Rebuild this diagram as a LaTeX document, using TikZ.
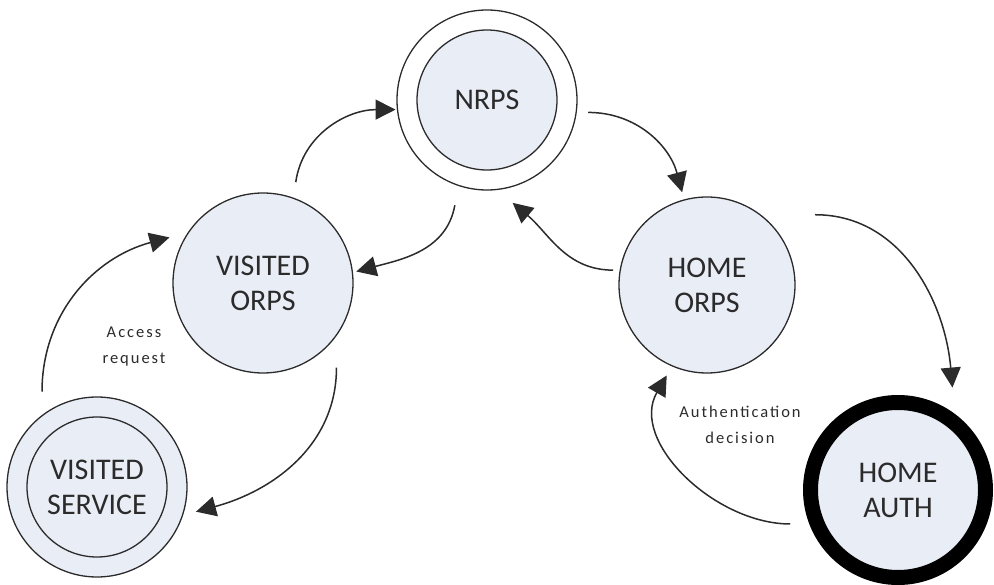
\documentclass[tikz,border=0pt]{standalone}
\usepackage{fontspec}
\setmainfont{Carlito}
\newfontfamily\lblfont[LetterSpace=12]{Carlito}
\usetikzlibrary{arrows.meta,calc}
\definecolor{nodefill}{HTML}{E9EDF6}
\definecolor{ink}{HTML}{2B2B2B}
\begin{document}
\begin{tikzpicture}[x=1pt,y=1pt,
  state/.style={circle, draw=ink, line width=1.3pt, fill=nodefill, minimum size=180pt, inner sep=0pt, align=center, text=ink, font=\fontsize{30}{35}\selectfont},
  ring/.style={circle, draw=ink, line width=1.3pt, minimum size=180pt, inner sep=0pt},
  arr/.style={draw=ink, line width=1.5pt, -{Triangle[length=20pt,width=20pt]}},
  lbl/.style={text=ink, font=\lblfont\fontsize{16.5}{26}\selectfont, align=center}]
\useasboundingbox (0,0) rectangle (994,-585);
% nodes
\node[ring, fill=white] (nrpsout) at (487,-100) {};
\node[state, minimum size=140pt] (nrps) at (487,-100) {NRPS};
\node[ring, fill=nodefill] (vsout) at (97,-487) {};
\node[state, minimum size=140pt] (vs) at (97,-487) {VISITED\\SERVICE};
\node[state] (vo) at (263,-283) {VISITED\\ORPS};
\node[state, minimum size=176pt] (ho) at (707,-285) {HOME\\ORPS};
\node[state, draw=black, line width=15pt, minimum size=175pt] (ha) at (898,-490) {HOME\\AUTH};
% labels
\node[lbl] (acc) at (134,-347) {Access\\request};
\node[lbl] (auth) at (740,-425) {Authentication\\decision};
% connectors
\draw[arr] ($(vs)+(120:110)$) to[out=90,in=195] ($(vo)+(154:104)$);
\draw[arr] ($(vo)+(-49:112)$) to[out=-90,in=15] ($(vs)+(-14:102)$);
\draw[arr] ($(vo)+(72:106)$) to[out=82,in=180] ($(nrps)+(186:92)$);
\draw[arr] ($(nrps)+(-107:110)$) to[out=-100,in=15] ($(vo)+(7:94)$);
\draw[arr] ($(nrps)+(-7:102)$) to[out=0,in=105] ($(ho)+(105:96)$);
\draw[arr] ($(ho)+(171:95)$) to[out=180,in=-40] ($(nrps)+(-76:106)$);
\draw[arr] ($(ho)+(33:129)$) to[out=0,in=95] ($(ha)+(62:116)$);
\draw[arr] ($(ha)+(197.5:113)$) to[out=180,in=240] ($(ho)+(246:99)$);
\end{tikzpicture}
\end{document}
